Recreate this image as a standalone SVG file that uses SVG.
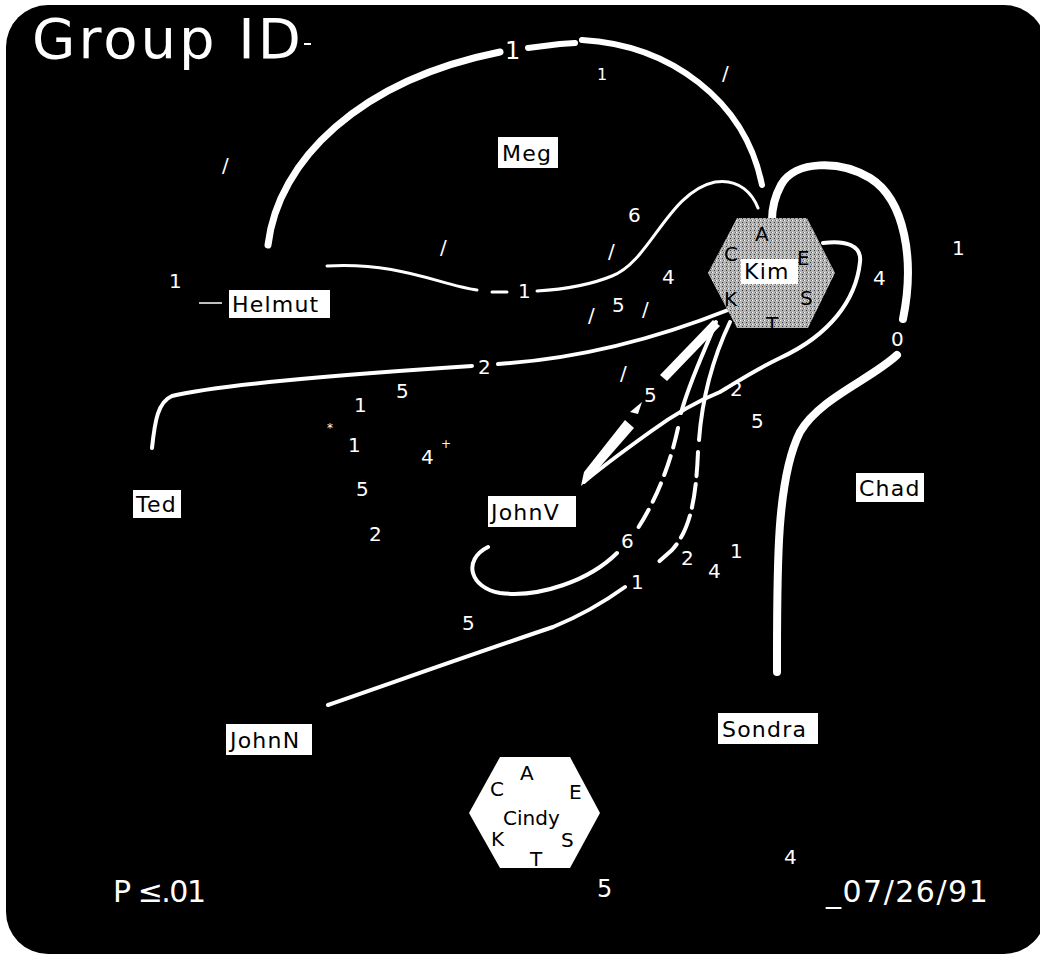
<svg xmlns="http://www.w3.org/2000/svg" width="1040" height="959" viewBox="0 0 1040 959">
<defs>
<style>
.lbl{fill:#fff}
.lbltxt{font-family:"DejaVu Sans",sans-serif;font-size:22px;fill:#000;letter-spacing:1.2px}
.num{font-family:"DejaVu Sans",sans-serif;font-size:20px;fill:#fff}
.sm{font-size:12px}
.mid{font-size:16px}
.big{font-size:24px}
.foot{font-size:30px}
.con{fill:none;stroke:#fff;stroke-linecap:round;stroke-linejoin:round}
.hexl{font-family:"DejaVu Sans",sans-serif;font-size:20px;fill:#000}
</style>
<pattern id="stip" width="4" height="4" patternUnits="userSpaceOnUse">
<rect width="4" height="4" fill="#b4b4b4"/>
<rect x="0" y="0" width="1" height="1" fill="#fff"/>
<rect x="2" y="2" width="1" height="1" fill="#333"/>
<rect x="3" y="0" width="1" height="1" fill="#666"/>
</pattern>
</defs>
<rect width="1040" height="959" fill="#fff"/>
<rect x="6" y="5" width="1040" height="949" rx="42" fill="#000"/>
<text x="32" y="58" font-family="DejaVu Sans, sans-serif" font-size="56" letter-spacing="3" fill="#fff">Group ID</text>
<line x1="304" y1="44" x2="311" y2="44" stroke="#fff" stroke-width="2"/>

<g id="connectors">
<path class="con" stroke-width="7" d="M268,245 C278,160 360,80 500,52"/>
<path class="con" stroke-width="6" d="M528,48 L560,44 L575,43"/>
<path class="con" stroke-width="6" d="M582,40 C670,45 745,100 762,185"/>
<path class="con" stroke-width="3" d="M327,266 C400,262 440,285 477,290"/>
<path class="con" stroke-width="3" d="M492,292 L507,292"/>
<path class="con" stroke-width="3" d="M537,291 C570,289 595,283 612,276 C650,262 668,192 715,182 C740,178 753,195 758,208"/>
<path class="con" stroke-width="4" d="M152,448 C155,420 158,402 172,396 C220,384 380,372 472,366"/>
<path class="con" stroke-width="4" d="M498,364 C560,360 640,345 728,310"/>
<polygon fill="#fff" points="713,320 720,326 667,381 660,375"/>
<polygon fill="#fff" points="625,420 634,428 592,476 581,486 584,472"/>
<polygon fill="#fff" points="630,412 642,402 638,414"/>
<path class="con" stroke-width="4" d="M823,243 C845,240 862,245 860,262 C856,300 830,335 780,358 C755,370 740,380 720,392 C700,400 680,410 650,432 C625,450 600,468 584,482"/>
<path class="con" stroke-width="4" d="M716,322 C705,350 690,380 681,413"/>
<path class="con" stroke-width="4" stroke-dasharray="20 9" d="M678,428 C670,465 656,500 638,528"/>
<path class="con" stroke-width="4" d="M617,553 C590,580 540,598 500,593 C470,588 462,560 488,547"/>
<path class="con" stroke-width="4" d="M730,322 C712,360 702,400 699,440"/>
<path class="con" stroke-width="4" stroke-dasharray="24 8" d="M698,452 C696,500 690,530 672,550 L654,566"/>
<path class="con" stroke-width="4" d="M625,587 C600,605 575,618 553,627 C470,655 400,680 328,705"/>
<path class="con" stroke-width="8" d="M777,672 C777,570 776,480 800,432 C820,398 870,380 897,355"/>
<path class="con" stroke-width="8" d="M903,319 C915,260 905,200 870,178 C840,160 795,160 781,185 C774,198 772,210 772,220"/>
<line x1="199" y1="303" x2="222" y2="303" stroke="#fff" stroke-width="1.5"/>
</g>

<g id="labels-numbers">
<text class="num big" x="505" y="59">1</text>
<text class="num mid" x="597" y="80">1</text>
<text class="num" x="722" y="80">/</text>
<text class="num" x="222" y="172">/</text>
<text class="num" x="169" y="288">1</text>
<text class="num" x="440" y="254">/</text>
<text class="num" x="628" y="222">6</text>
<text class="num" x="608" y="258">/</text>
<text class="num" x="662" y="284">4</text>
<text class="num" x="518" y="298">1</text>
<text class="num" x="588" y="322">/</text>
<text class="num" x="612" y="312">5</text>
<text class="num" x="642" y="316">/</text>
<text class="num" x="478" y="374">2</text>
<text class="num" x="396" y="398">5</text>
<text class="num" x="354" y="412">1</text>
<text class="num sm" x="327" y="432">*</text>
<text class="num" x="348" y="452">1</text>
<text class="num" x="421" y="464">4</text>
<text class="num sm" x="441" y="448">+</text>
<text class="num" x="356" y="496">5</text>
<text class="num" x="369" y="541">2</text>
<text class="num" x="620" y="380">/</text>
<text class="num" x="644" y="402">5</text>
<text class="num" x="730" y="396">2</text>
<text class="num" x="751" y="428">5</text>
<text class="num" x="621" y="548">6</text>
<text class="num" x="681" y="565">2</text>
<text class="num" x="708" y="578">4</text>
<text class="num" x="730" y="558">1</text>
<text class="num" x="631" y="589">1</text>
<text class="num" x="462" y="630">5</text>
<text class="num" x="952" y="255">1</text>
<text class="num" x="873" y="285">4</text>
<text class="num" x="891" y="346">0</text>
<text class="num" x="784" y="864">4</text>
<text class="num big" x="597" y="897">5</text>
<text class="num foot" x="113" y="902" letter-spacing="-1.5">P ≤.01</text>
<text class="num foot" x="826" y="902" letter-spacing="1.5">_07/26/91</text>
</g>

<g id="node-meg"><rect class="lbl" x="498" y="137" width="60" height="31"/><text class="lbltxt" x="502" y="161">Meg</text></g>
<g id="node-helmut"><rect class="lbl" x="229" y="290" width="101" height="28"/><text class="lbltxt" x="232" y="312">Helmut</text></g>
<g id="node-ted"><rect class="lbl" x="133" y="490" width="48" height="28"/><text class="lbltxt" x="136" y="512">Ted</text></g>
<g id="node-johnv"><rect class="lbl" x="488" y="496" width="88" height="31"/><text class="lbltxt" x="491" y="520">JohnV</text></g>
<g id="node-chad"><rect class="lbl" x="856" y="473" width="68" height="29"/><text class="lbltxt" x="859" y="496">Chad</text></g>
<g id="node-johnn"><rect class="lbl" x="226" y="724" width="86" height="31"/><text class="lbltxt" x="230" y="748">JohnN</text></g>
<g id="node-sondra"><rect class="lbl" x="718" y="713" width="100" height="31"/><text class="lbltxt" x="722" y="737">Sondra</text></g>

<g id="node-kim">
<polygon points="737,218 807,218 835,273 808,328 737,328 708,273" fill="url(#stip)"/>
<rect x="741" y="259" width="57" height="25" fill="#fff"/>
<text class="lbltxt" x="744" y="279">Kim</text>
<text class="hexl" x="755" y="241">A</text>
<text class="hexl" x="724" y="261">C</text>
<text class="hexl" x="797" y="265">E</text>
<text class="hexl" x="800" y="305">S</text>
<text class="hexl" x="724" y="306">K</text>
<text class="hexl" x="766" y="331">T</text>
</g>

<g id="node-cindy">
<polygon points="500,757 570,757 600,813 570,868 500,868 469,813" fill="#fff"/>
<text class="hexl" x="520" y="780">A</text>
<text class="hexl" x="490" y="796">C</text>
<text class="hexl" x="569" y="799">E</text>
<text class="hexl" x="503" y="825">Cindy</text>
<text class="hexl" x="491" y="846">K</text>
<text class="hexl" x="561" y="847">S</text>
<text class="hexl" x="530" y="866">T</text>
</g>
</svg>
